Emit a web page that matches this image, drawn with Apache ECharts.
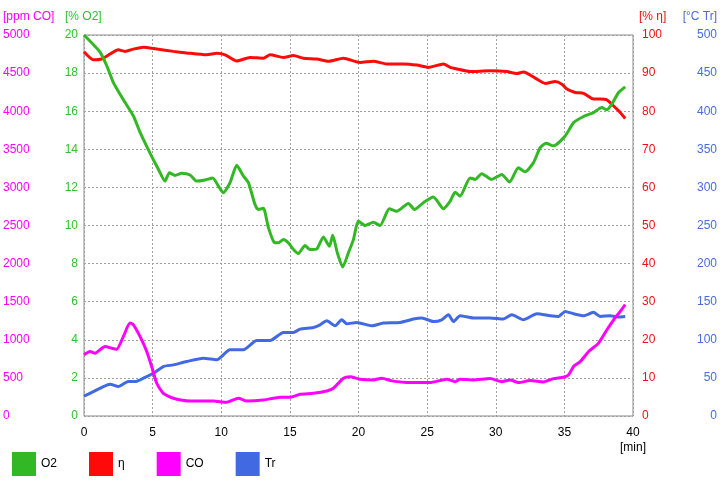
<!DOCTYPE html>
<html><head><meta charset="utf-8">
<script src="https://cdn.jsdelivr.net/npm/echarts@6/dist/echarts.min.js"></script>
<style>html,body{margin:0;padding:0;background:#fff}#c{width:720px;height:480px}</style>
</head><body><div id="c"></div>
<script>
// ---- data ----
const o2Time = [0,0.68,1.17,1.65,2.14,2.87,3.6,4.08,4.81,5.42,5.9,6.22,6.63,7.12,7.73,8.21,8.82,9.38,9.79,10.15,10.64,11.13,11.61,11.98,12.46,12.7,13.07,13.43,13.85,14.16,14.53,14.89,15.26,15.62,16.1,16.47,16.96,17.44,17.88,18.12,18.46,18.85,19.26,19.63,19.99,20.48,21.09,21.57,22.25,22.79,23.64,24.08,24.73,25.46,26.19,26.68,27.04,27.4,28.13,28.5,28.98,29.71,30.44,31.0,31.65,32.14,32.75,33.24,33.67,34.2,35.06,35.67,36.4,37.12,37.73,38.09,38.46,38.95,39.43];
const o2Values = [20.0,19.5,19.1,18.4,17.5,16.6,15.75,14.9,13.8,12.95,12.33,12.77,12.63,12.74,12.65,12.33,12.39,12.5,12.07,11.72,12.25,13.16,12.6,12.25,11.1,10.84,10.9,9.9,9.12,9.09,9.26,9.09,8.74,8.53,8.95,8.74,8.77,9.4,8.91,9.49,8.56,7.82,8.56,9.26,10.23,10.0,10.17,10.0,10.88,10.75,11.16,10.84,11.2,11.5,10.88,11.28,11.75,11.54,12.5,12.42,12.72,12.42,12.68,12.28,13.03,12.82,13.3,14.09,14.32,14.18,14.7,15.4,15.72,15.93,16.19,16.07,16.37,16.98,17.28];

const etaTime = [0,0.68,1.29,1.9,2.5,2.99,3.6,4.33,5.3,6.51,7.48,8.94,9.67,10.28,11.13,12.1,13.07,13.56,14.53,15.26,15.99,16.96,17.81,18.9,20.12,21.09,22.06,23.27,24.25,25.1,26.19,26.68,27.16,28.13,29.59,30.81,31.54,32.02,33.0,33.6,34.33,34.82,35.18,35.79,36.4,37.12,37.61,38.1,38.46,38.95,39.43];
const etaValues = [95.6,93.5,93.7,95.0,96.1,95.7,96.3,96.8,96.3,95.7,95.3,94.8,95.2,94.8,93.2,94.1,93.9,94.8,94.1,94.6,93.9,93.7,93.1,93.9,92.8,93.1,92.4,92.4,92.1,91.5,92.4,91.5,91.1,90.4,90.6,90.4,89.9,90.3,88.4,87.3,87.8,87.1,85.8,84.9,84.7,83.2,83.2,83.0,81.8,80.1,78.1];

const coTime = [0,0.44,0.8,1.53,2.02,2.38,2.87,3.35,3.6,4.08,4.57,4.93,5.3,5.78,6.51,7.73,9.42,10.4,11.25,11.86,13.07,14.29,15.0,15.74,16.71,17.69,18.17,18.9,19.39,20.1,21.09,21.7,22.43,23.76,25.2,26.43,27.04,27.4,28.37,29.59,30.44,31.05,31.65,32.5,33.47,34.2,34.93,35.3,35.67,36.16,36.77,37.49,38.1,38.59,39.07,39.43];
const coValues = [803,846,825,912,890,877,1044,1219,1197,1044,846,649,430,298,233,197,197,180,233,197,211,246,246,285,298,329,364,496,515,483,474,496,461,438,438,483,451,483,474,491,451,474,438,465,447,491,509,539,649,715,846,956,1132,1263,1372,1461];

const trTime = [0,0.68,1.41,1.9,2.5,3.23,3.72,4.33,5.05,5.78,6.51,7.48,8.7,9.67,10.64,11.61,12.59,13.56,14.53,15.26,15.74,16.71,17.2,17.69,18.29,18.78,19.15,19.88,20.97,21.82,23.03,24.0,24.61,25.46,26.07,26.55,26.92,27.4,28.37,29.59,30.56,31.17,32.02,33.0,33.97,34.57,35.06,35.67,36.4,37.12,37.61,38.34,38.95,39.43];
const trValues = [26,32,38.6,41.7,38.6,45.2,45.2,49.6,56.1,64.9,67.1,71.5,75.9,73.7,86.8,86.8,99.1,99.1,109.6,109.6,114,116.2,119.7,125,118.4,126.3,121,122.8,118.4,122,122.8,127.2,128.6,124,126.3,132.9,124,131.6,128.6,128.6,127.2,132.9,126.3,134.2,131.6,130.7,137.3,134.2,131.6,136,130.7,131.6,129.9,130.7];

const seriesNames = ['O2','η','CO','Tr'];
const axisNames = ['[ppm CO]','[% O2]','[% η]','[°C Tr]'];
const xTicks = {min:0, max:40, step:5};

// ---- chart ----
const pair = (t, v) => t.map((x, i) => [x, v[i]]);
const FONT = 'Liberation Sans, Arial, sans-serif';
const C = {o2:'#33b825', eta:'#ff0a0a', co:'#ff00ff', tr:'#4169e1'};
const LBL = {o2:'#33c033', eta:'#ee1111', co:'#ff00ff', tr:'#4a6ae0'};

const chart = echarts.init(document.getElementById('c'), null, {renderer:'canvas'});
const baseY = (extra) => Object.assign({
  type:'value', axisLine:{show:false}, axisTick:{show:false}, splitLine:{show:false}
}, extra);
const nameText = (txt, pos, color, align) => ({
  type:'text', left:align==='right'?undefined:pos, right:align==='right'?pos:undefined, top:11,
  style:{text:txt, fill:color, font:'12px ' + FONT}
});

chart.setOption({
  animation:false,
  backgroundColor:'#fff',
  textStyle:{fontFamily:FONT},
  grid:{left:84, right:87, top:35, bottom:64, show:true, borderColor:'#8a8a8a', borderWidth:1, backgroundColor:'transparent'},
  legend:{
    data:seriesNames, left:12, top:452, padding:0, itemWidth:24, itemHeight:24, itemGap:32, icon:'rect',
    textStyle:{fontSize:12, color:'#000', fontFamily:FONT}, selectedMode:false
  },
  graphic:[
    nameText(axisNames[0], 3, LBL.co, 'left'),
    nameText(axisNames[1], 65, LBL.o2, 'left'),
    nameText(axisNames[2], 639, LBL.eta, 'left'),
    nameText(axisNames[3], 3, LBL.tr, 'right')
  ],
  xAxis:{
    type:'value', min:xTicks.min, max:xTicks.max, interval:xTicks.step,
    axisLine:{show:false}, axisTick:{show:false},
    splitLine:{show:true, lineStyle:{color:'#a0a0a0', type:[2,2], width:1}},
    axisLabel:{color:'#000', fontSize:12, margin:9, lineHeight:15, fontFamily:FONT,
      formatter:(v)=> v===40 ? '40\n[min]' : String(v)}
  },
  yAxis:[
    baseY({position:'left', offset:81, min:0, max:5000, interval:500,
      axisLabel:{color:LBL.co, fontSize:12, margin:0, align:'left', fontFamily:FONT, formatter:(v)=>String(v)}}),
    baseY({position:'left', offset:19, min:0, max:20, interval:2,
      splitLine:{show:true, lineStyle:{color:'#a0a0a0', type:[2,2], width:1}},
      axisLabel:{color:LBL.o2, fontSize:12, margin:-13, fontFamily:FONT, formatter:(v)=>String(v)}}),
    baseY({position:'right', offset:6, min:0, max:100, interval:10,
      axisLabel:{color:LBL.eta, fontSize:12, margin:3, align:'left', fontFamily:FONT, formatter:(v)=>String(v)}}),
    baseY({position:'right', offset:84, min:0, max:500, interval:50,
      axisLabel:{color:LBL.tr, fontSize:12, margin:0, align:'right', fontFamily:FONT, formatter:(v)=>String(v)}})
  ],
  series:[
    {name:'Tr', type:'line', yAxisIndex:3, data:pair(trTime, trValues), showSymbol:false, smooth:0.2, lineStyle:{width:3, color:C.tr}, itemStyle:{color:C.tr}},
    {name:'η', type:'line', yAxisIndex:2, data:pair(etaTime, etaValues), showSymbol:false, smooth:0.2, lineStyle:{width:3, color:C.eta}, itemStyle:{color:C.eta}},
    {name:'CO', type:'line', yAxisIndex:0, data:pair(coTime, coValues), showSymbol:false, smooth:0.2, lineStyle:{width:3, color:C.co}, itemStyle:{color:C.co}},
    {name:'O2', type:'line', yAxisIndex:1, data:pair(o2Time, o2Values), showSymbol:false, smooth:0.2, lineStyle:{width:3, color:C.o2}, itemStyle:{color:C.o2}}
  ]
});
</script></body></html>
